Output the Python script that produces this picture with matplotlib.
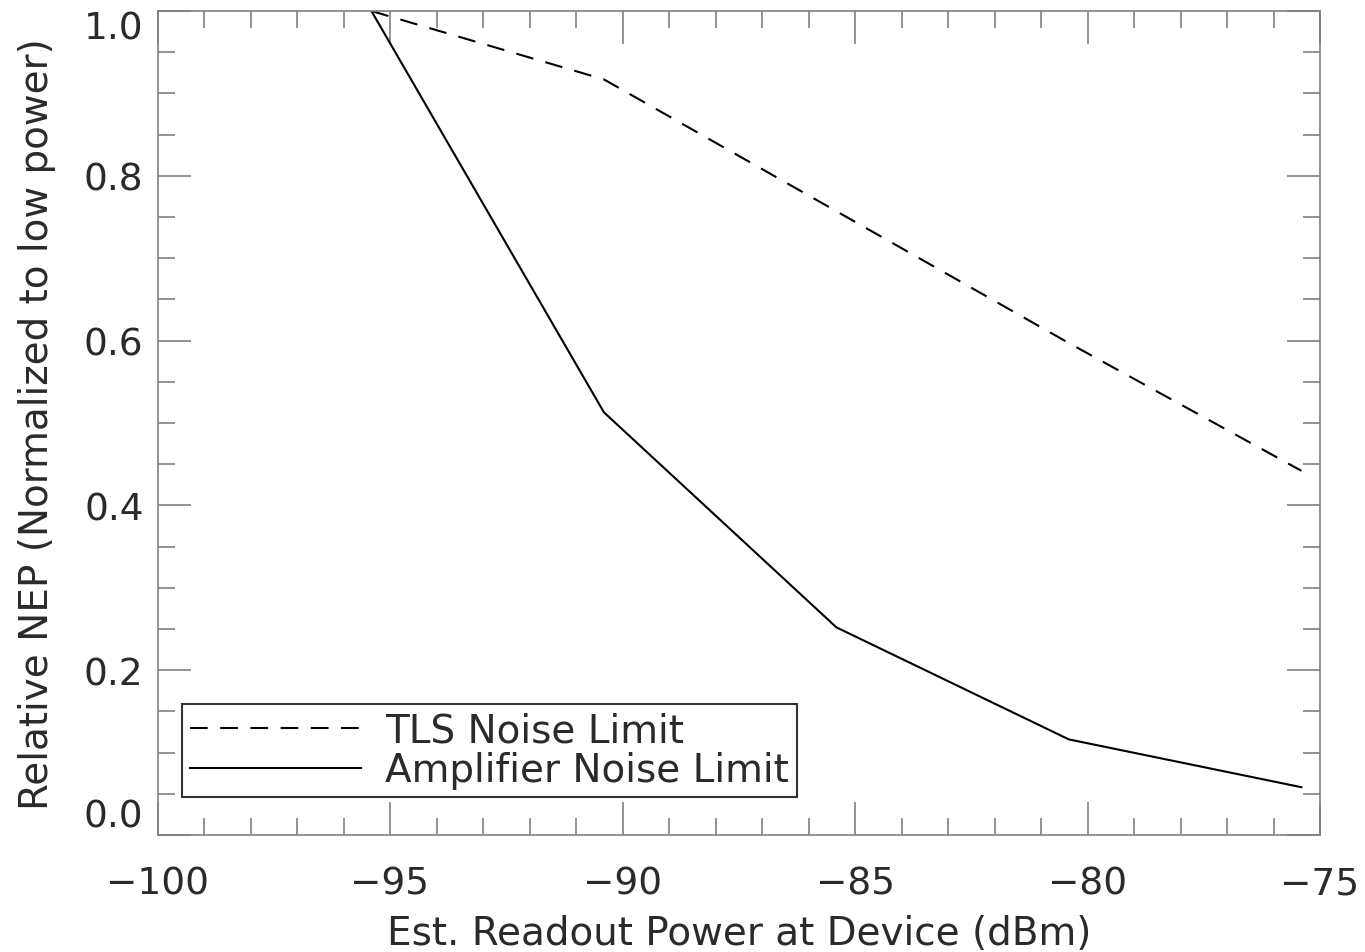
import numpy as np
import matplotlib
matplotlib.use("Agg")
import matplotlib.pyplot as plt
from matplotlib.ticker import MultipleLocator
from matplotlib.legend_handler import HandlerLine2D
from matplotlib.lines import Line2D

# readout power (dBm) and relative NEP
power = [-95.4, -90.4, -85.4, -80.4, -75.4]
tls_nep = [1.0, 0.917, 0.757, 0.597, 0.442]
amp_nep = [1.0, 0.513, 0.252, 0.116, 0.058]

x_ticks = [-100, -95, -90, -85, -80, -75]
x_labels = ['\u2212100', '\u221295', '\u221290', '\u221285', '\u221280', '\u221275']
y_ticks = [0.0, 0.2, 0.4, 0.6, 0.8, 1.0]
y_labels = ['0.0', '0.2', '0.4', '0.6', '0.8', '1.0']


class ShortHandler(HandlerLine2D):
    # legend line starts a bit in from the box edge, like the original
    def create_artists(self, legend, orig_handle, xdescent, ydescent, width, height, fontsize, trans):
        arts = super().create_artists(legend, orig_handle, xdescent, ydescent, width, height, fontsize, trans)
        for a in arts:
            if isinstance(a, Line2D):
                xd = a.get_xdata()
                if len(xd) == 2:
                    a.set_xdata([xd[0] + 0.16 * width, xd[1]])
        return arts


plt.rcParams['font.family'] = ['DejaVu Sans']

fig = plt.figure(figsize=(13.65, 9.53), dpi=100)
ax = fig.add_axes([157.5/1365, 1 - 836/953, (1320-157.5)/1365, (836-12)/953])

ax.plot(power, tls_nep, color='black', lw=1.5, ls=(0, (8.5, 6)), label='TLS Noise Limit')
ax.plot(power, amp_nep, color='black', lw=1.5, label='Amplifier Noise Limit')

ax.set_xlim(-100, -75)
ax.set_ylim(0.0, 1.0)
ax.set_xticks(x_ticks)
ax.set_xticklabels(x_labels)
ax.set_yticks(y_ticks)
ax.set_yticklabels(y_labels)
ax.xaxis.set_minor_locator(MultipleLocator(1))
ax.yaxis.set_minor_locator(MultipleLocator(0.05))

gray = '#808080'
txt = '#2a2a2a'
for s in ax.spines.values():
    s.set_color(gray)
    s.set_linewidth(1.2)
ax.tick_params(which='both', direction='in', top=True, right=True, color=gray, width=1.2,
               labelcolor=txt)
ax.tick_params(which='major', length=24, labelsize=27)
ax.tick_params(which='minor', length=12)
ax.tick_params(axis='x', which='major', pad=22)
ax.tick_params(axis='y', which='major', pad=10)

yl = ax.get_yticklabels()
yl[0].set_va('bottom')
yl[-1].set_va('top')

ax.set_xlabel('Est. Readout Power at Device (dBm)', fontsize=28, color=txt, labelpad=9)
ax.set_ylabel('Relative NEP (Normalized to low power)', fontsize=28, color=txt, labelpad=20)

leg = ax.legend(loc='lower left', bbox_to_anchor=(24.5/1162.5, 38/824), fontsize=28,
                frameon=True, fancybox=False, handlelength=4.4, handletextpad=0.62,
                borderpad=0.2, labelspacing=0.05, borderaxespad=0,
                handler_map={Line2D: ShortHandler()})
leg.get_frame().set_edgecolor('black')
leg.get_frame().set_linewidth(1.5)
for t in leg.get_texts():
    t.set_color(txt)

fig.savefig('out.png', dpi=100)
